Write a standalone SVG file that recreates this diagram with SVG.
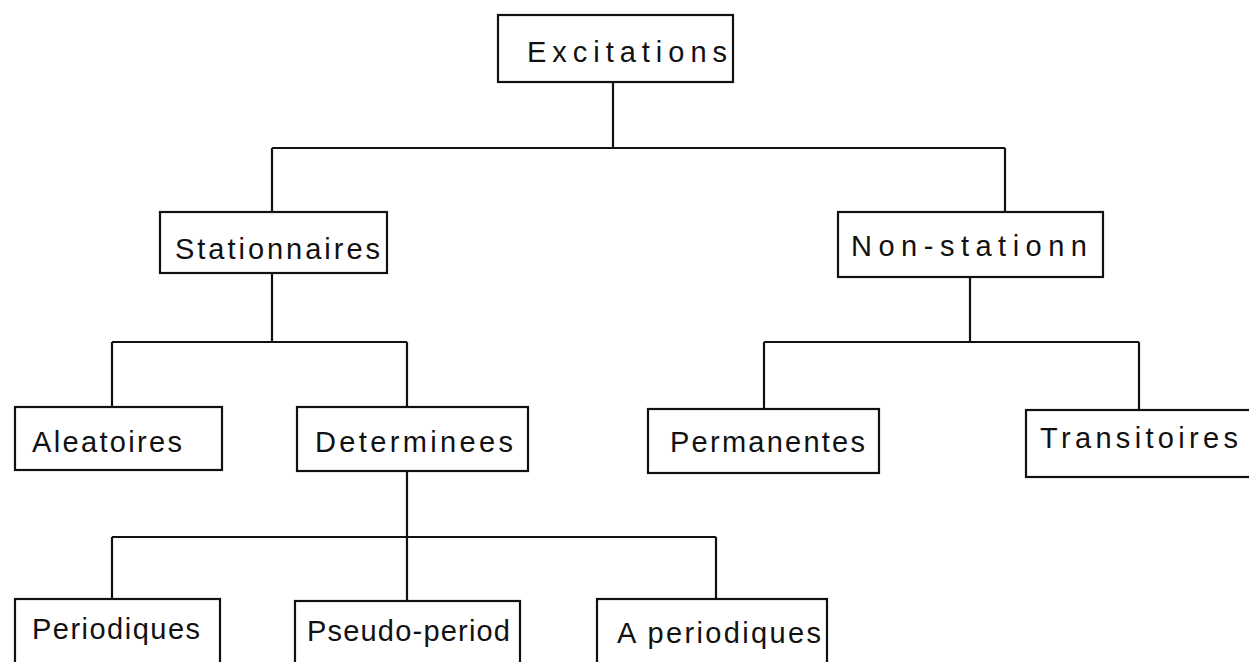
<svg xmlns="http://www.w3.org/2000/svg" width="1249" height="662" viewBox="0 0 1249 662">
<style>
.box{fill:#fff;stroke:#111;stroke-width:2.2}
.lbl{font-family:"Liberation Sans",Arial,sans-serif;font-size:29px;fill:#111}
.con{fill:none;stroke:#111;stroke-width:2.2}
</style>
<rect width="1249" height="662" fill="#fff"/>
<g id="connectors">
<path class="con" d="M613,82 V148 M272,148 H1005 M272,148 V212 M1005,148 V212"/>
<path class="con" d="M272,273 V342 M112,342 H407 M112,342 V407 M407,342 V407"/>
<path class="con" d="M970,277 V342 M764,342 H1139 M764,342 V409 M1139,342 V410"/>
<path class="con" d="M407,471 V537 M112,537 H716 M112,537 V599 M407,537 V601 M716,537 V599"/>
</g>
<g id="excitations"><rect class="box" x="498" y="15" width="235" height="67"/><text class="lbl" x="527" y="62" textLength="200" lengthAdjust="spacing">Excitations</text></g>
<g id="stationnaires"><rect class="box" x="160" y="212" width="227" height="61"/><text class="lbl" x="175" y="259" textLength="205" lengthAdjust="spacing">Stationnaires</text></g>
<g id="non-station"><rect class="box" x="838" y="212" width="265" height="65"/><text class="lbl" x="851" y="256" textLength="236" lengthAdjust="spacing">Non-stationn</text></g>
<g id="aleatoires"><rect class="box" x="15" y="407" width="207" height="63"/><text class="lbl" x="32" y="452" textLength="150" lengthAdjust="spacing">Aleatoires</text></g>
<g id="determinees"><rect class="box" x="297" y="407" width="231" height="64"/><text class="lbl" x="315" y="452" textLength="198" lengthAdjust="spacing">Determinees</text></g>
<g id="permanentes"><rect class="box" x="648" y="409" width="231" height="64"/><text class="lbl" x="670" y="452" textLength="195" lengthAdjust="spacing">Permanentes</text></g>
<g id="transitoires"><rect class="box" x="1026" y="410" width="230" height="67"/><text class="lbl" x="1040" y="448" textLength="198" lengthAdjust="spacing">Transitoires</text></g>
<g id="periodiques"><rect class="box" x="15" y="599" width="205" height="66"/><text class="lbl" x="32" y="639" textLength="168" lengthAdjust="spacing">Periodiques</text></g>
<g id="pseudo-period"><rect class="box" x="295" y="601" width="225" height="64"/><text class="lbl" x="307" y="641" textLength="203" lengthAdjust="spacing">Pseudo-period</text></g>
<g id="aperiodiques"><rect class="box" x="597" y="599" width="230" height="66"/><text class="lbl" x="617" y="643" textLength="204" lengthAdjust="spacing">A periodiques</text></g>
</svg>
